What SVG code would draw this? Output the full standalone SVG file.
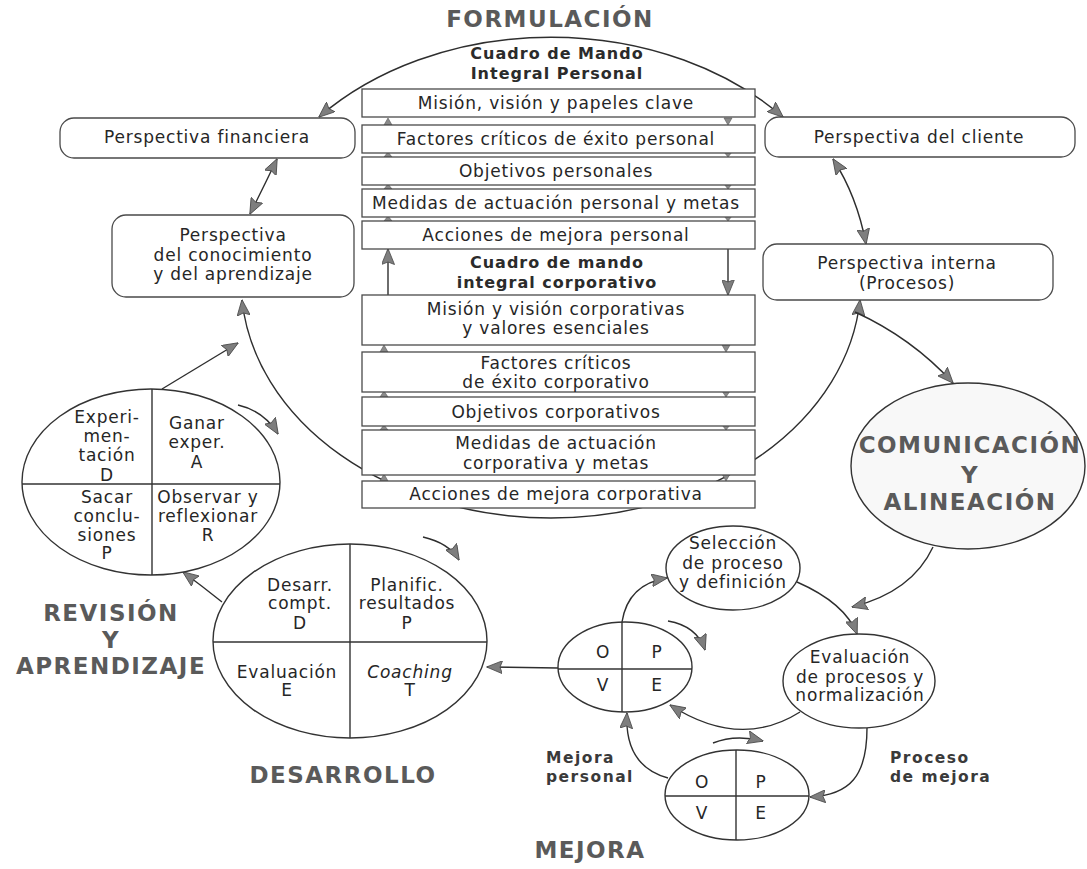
<svg xmlns="http://www.w3.org/2000/svg" width="1087" height="869" viewBox="0 0 1087 869">
  <defs>
    <style>
      .t { font-family: "DejaVu Sans", "Liberation Sans", sans-serif; font-size: 17px; letter-spacing: 0.8px; fill: #262626; text-anchor: middle; }
      .it { font-style: italic; }
      .b { font-family: "DejaVu Sans", "Liberation Sans", sans-serif; font-weight: bold; font-size: 16px; letter-spacing: 1px; fill: #2b2b2b; text-anchor: middle; }
      .h { font-family: "DejaVu Sans", "Liberation Sans", sans-serif; font-weight: bold; font-size: 23px; letter-spacing: 1.5px; fill: #5a5a5a; text-anchor: middle; }
      .lbl { font-family: "DejaVu Sans", "Liberation Sans", sans-serif; font-weight: bold; font-size: 15.5px; letter-spacing: 1.5px; fill: #3a3a3a; }
      .box { fill: #ffffff; stroke: #4a4a4a; stroke-width: 1.3; }
      .cir { fill: #ffffff; stroke: #333333; stroke-width: 1.4; }
      .div { stroke: #333333; stroke-width: 1.4; }
      .ln { fill: none; stroke: #2e2e2e; stroke-width: 1.4; }
      .arr { marker-end: url(#ah); }
      .arr2 { marker-start: url(#ah); marker-end: url(#ah); }
      .sa { fill: #8a8a8a; stroke: #555555; stroke-width: 0.6; }
    </style>
    <marker id="ah" viewBox="0 0 16 13" refX="15.5" refY="6.5" markerWidth="16" markerHeight="13" markerUnits="userSpaceOnUse" orient="auto-start-reverse">
      <path d="M0,0 L16,6.5 L0,13 L2.5,6.5 Z" fill="#7e7e7e" stroke="#474747" stroke-width="0.8" stroke-linejoin="round"/>
    </marker>
  </defs>

  <rect x="0" y="0" width="1087" height="869" fill="#ffffff"/>

  <!-- connectors (drawn first so the boxes sit on top of the big loop) -->
  <g id="connectors">
    <!-- big formulation loop -->
    <path class="ln arr2" d="M319,117 A310,237 0 0,1 783,117"/>
    <path class="ln arr2" d="M277,159 Q264,186 250,214"/>
    <path class="ln arr2" d="M833,159 Q857,196 866,244"/>
    <path class="ln arr2" d="M860,300 A310,237 0 0,1 242,300"/>

    <!-- personal stack links -->
    <path class="ln arr" d="M388,295 L388,249"/>
    <path class="ln arr" d="M728,249 L728,295"/>
    <polygon class="sa" points="384,125 392,125 388,118"/>
    <polygon class="sa" points="384,157 392,157 388,152"/>
    <polygon class="sa" points="384,189 392,189 388,184"/>
    <polygon class="sa" points="384,221 392,221 388,216"/>
    <polygon class="sa" points="724,118 732,118 728,125"/>
    <polygon class="sa" points="724,152 732,152 728,157"/>
    <polygon class="sa" points="724,184 732,184 728,189"/>
    <polygon class="sa" points="724,216 732,216 728,221"/>
    <!-- corporate stack links -->
    <polygon class="sa" points="380,352 388,352 384,345"/>
    <polygon class="sa" points="380,397 388,397 384,391"/>
    <polygon class="sa" points="380,430 388,430 384,425"/>
    <polygon class="sa" points="380,481 388,481 384,474"/>
    <polygon class="sa" points="722,345 730,345 726,352"/>
    <polygon class="sa" points="722,391 730,391 726,397"/>
    <polygon class="sa" points="722,425 730,425 726,430"/>
    <polygon class="sa" points="722,474 730,474 726,481"/>

    <!-- learning cycle -->
    <path class="ln arr" d="M162,389 L238,343"/>
    <path class="ln arr" d="M238,405 Q264,411 278,434"/>
    <path class="ln arr" d="M222,602 Q202,586 183,572"/>
    <!-- development cycle -->
    <path class="ln arr" d="M423,537 Q449,543 459,560"/>
    <path class="ln arr" d="M558,668 L487,667"/>
    <!-- communication and improvement -->
    <path class="ln arr" d="M855,312 Q912,338 953,383"/>
    <path class="ln arr" d="M933,547 Q912,592 852,607"/>
    <path class="ln arr" d="M622,622 Q628,584 667,578"/>
    <path class="ln arr" d="M668,621 Q697,626 705,650"/>
    <path class="ln arr" d="M797,582 Q845,603 857,634"/>
    <path class="ln arr" d="M800,712 Q740,750 670,705"/>
    <path class="ln arr" d="M867,728 C867,776 850,795 810,797"/>
    <path class="ln arr" d="M668,778 Q624,766 627,713"/>
    <path class="ln arr" d="M713,743 Q735,734 763,741"/>
  </g>

  <!-- headings -->
  <g id="title-formulacion"><text class="h" x="550" y="27">FORMULACIÓN</text></g>
  <g id="title-revision">
    <text class="h" x="111" y="621">REVISIÓN</text>
    <text class="h" x="111" y="648">Y</text>
    <text class="h" x="111" y="674">APRENDIZAJE</text>
  </g>
  <g id="title-desarrollo"><text class="h" x="343" y="783">DESARROLLO</text></g>
  <g id="title-mejora"><text class="h" x="590" y="858">MEJORA</text></g>

  <!-- personal scorecard -->
  <g id="personal-title">
    <text class="b" x="557" y="59">Cuadro de Mando</text>
    <text class="b" x="557" y="79">Integral Personal</text>
  </g>
  <g id="p-mision"><rect class="box" x="362" y="89" width="393" height="28"/><text class="t" x="556" y="109">Misión, visión y papeles clave</text></g>
  <g id="p-factores"><rect class="box" x="362" y="125" width="393" height="28"/><text class="t" x="556" y="145">Factores críticos de éxito personal</text></g>
  <g id="p-objetivos"><rect class="box" x="362" y="157" width="393" height="28"/><text class="t" x="556" y="177">Objetivos personales</text></g>
  <g id="p-medidas"><rect class="box" x="362" y="189" width="393" height="28"/><text class="t" x="556" y="209">Medidas de actuación personal y metas</text></g>
  <g id="p-acciones"><rect class="box" x="362" y="221" width="393" height="28"/><text class="t" x="556" y="241">Acciones de mejora personal</text></g>

  <!-- corporate scorecard -->
  <g id="corporate-title">
    <text class="b" x="557" y="268">Cuadro de mando</text>
    <text class="b" x="557" y="288">integral corporativo</text>
  </g>
  <g id="c-mision"><rect class="box" x="362" y="295" width="393" height="50"/><text class="t" x="556" y="315">Misión y visión corporativas</text><text class="t" x="556" y="334">y valores esenciales</text></g>
  <g id="c-factores"><rect class="box" x="362" y="352" width="393" height="40"/><text class="t" x="556" y="369">Factores críticos</text><text class="t" x="556" y="388">de éxito corporativo</text></g>
  <g id="c-objetivos"><rect class="box" x="362" y="397" width="393" height="29"/><text class="t" x="556" y="418">Objetivos corporativos</text></g>
  <g id="c-medidas"><rect class="box" x="362" y="430" width="393" height="45"/><text class="t" x="556" y="449">Medidas de actuación</text><text class="t" x="556" y="469">corporativa y metas</text></g>
  <g id="c-acciones"><rect class="box" x="362" y="481" width="393" height="27"/><text class="t" x="556" y="500">Acciones de mejora corporativa</text></g>

  <!-- perspectives -->
  <g id="persp-financiera"><rect class="box" x="60" y="118" width="295" height="40" rx="14"/><text class="t" x="207" y="143">Perspectiva financiera</text></g>
  <g id="persp-conocimiento"><rect class="box" x="112" y="215" width="242" height="82" rx="14"/><text class="t" x="233" y="241">Perspectiva</text><text class="t" x="233" y="261">del conocimiento</text><text class="t" x="233" y="280">y del aprendizaje</text></g>
  <g id="persp-cliente"><rect class="box" x="765" y="117" width="310" height="40" rx="14"/><text class="t" x="919" y="143">Perspectiva del cliente</text></g>
  <g id="persp-interna"><rect class="box" x="763" y="244" width="290" height="56" rx="14"/><text class="t" x="907" y="269">Perspectiva interna</text><text class="t" x="907" y="289">(Procesos)</text></g>

  <!-- learning cycle -->
  <g id="ciclo-aprendizaje">
    <ellipse class="cir" cx="151" cy="482" rx="129" ry="93"/>
    <line class="div" x1="152" y1="389" x2="152" y2="575"/>
    <line class="div" x1="22" y1="484" x2="280" y2="484"/>
    <text class="t" x="107" y="423">Experi-</text>
    <text class="t" x="107" y="442">men-</text>
    <text class="t" x="107" y="461">tación</text>
    <text class="t" x="107" y="481">D</text>
    <text class="t" x="197" y="429">Ganar</text>
    <text class="t" x="197" y="448">exper.</text>
    <text class="t" x="197" y="468">A</text>
    <text class="t" x="107" y="503">Sacar</text>
    <text class="t" x="107" y="522">conclu-</text>
    <text class="t" x="107" y="541">siones</text>
    <text class="t" x="107" y="559">P</text>
    <text class="t" x="208" y="503">Observar y</text>
    <text class="t" x="208" y="522">reflexionar</text>
    <text class="t" x="208" y="541">R</text>
  </g>

  <!-- development cycle -->
  <g id="ciclo-desarrollo">
    <ellipse class="cir" cx="350" cy="641" rx="137" ry="97"/>
    <line class="div" x1="350" y1="544" x2="350" y2="738"/>
    <line class="div" x1="213" y1="642" x2="487" y2="642"/>
    <text class="t" x="300" y="591">Desarr.</text>
    <text class="t" x="300" y="609">compt.</text>
    <text class="t" x="300" y="629">D</text>
    <text class="t" x="407" y="591">Planific.</text>
    <text class="t" x="407" y="609">resultados</text>
    <text class="t" x="407" y="629">P</text>
    <text class="t" x="287" y="678">Evaluación</text>
    <text class="t" x="287" y="696">E</text>
    <text class="t it" x="410" y="678">Coaching</text>
    <text class="t" x="410" y="696">T</text>
  </g>

  <!-- communication -->
  <g id="comunicacion">
    <ellipse cx="968" cy="466" rx="117" ry="83" fill="#f8f8f8" stroke="#333333" stroke-width="1.4"/>
    <text class="h" x="970" y="453">COMUNICACIÓN</text>
    <text class="h" x="970" y="483">Y</text>
    <text class="h" x="970" y="510">ALINEACIÓN</text>
  </g>

  <!-- improvement -->
  <g id="seleccion">
    <ellipse class="cir" cx="733" cy="568" rx="67" ry="42"/>
    <text class="t" x="733" y="549">Selección</text>
    <text class="t" x="733" y="569">de proceso</text>
    <text class="t" x="733" y="588">y definición</text>
  </g>
  <g id="evaluacion">
    <ellipse class="cir" cx="859" cy="681" rx="76" ry="47"/>
    <text class="t" x="860" y="663">Evaluación</text>
    <text class="t" x="860" y="683">de procesos y</text>
    <text class="t" x="860" y="701">normalización</text>
  </g>
  <g id="opve-personal">
    <ellipse class="cir" cx="625" cy="667" rx="67" ry="45"/>
    <line class="div" x1="622" y1="622" x2="622" y2="712"/>
    <line class="div" x1="558" y1="669" x2="692" y2="669"/>
    <text class="t" x="603" y="658">O</text>
    <text class="t" x="657" y="658">P</text>
    <text class="t" x="603" y="691">V</text>
    <text class="t" x="657" y="691">E</text>
  </g>
  <g id="opve-proceso">
    <ellipse class="cir" cx="737" cy="795" rx="72" ry="45"/>
    <line class="div" x1="736" y1="750" x2="736" y2="840"/>
    <line class="div" x1="665" y1="796" x2="809" y2="796"/>
    <text class="t" x="702" y="788">O</text>
    <text class="t" x="761" y="788">P</text>
    <text class="t" x="702" y="819">V</text>
    <text class="t" x="761" y="819">E</text>
  </g>
  <g id="label-mejora-personal">
    <text class="lbl" x="546" y="763">Mejora</text>
    <text class="lbl" x="546" y="782">personal</text>
  </g>
  <g id="label-proceso-mejora">
    <text class="lbl" x="890" y="763">Proceso</text>
    <text class="lbl" x="890" y="782">de mejora</text>
  </g>
</svg>
